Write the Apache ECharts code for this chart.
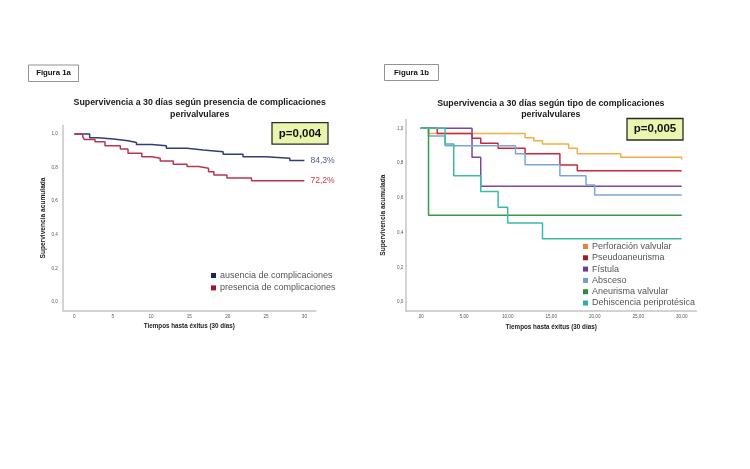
<!DOCTYPE html>
<html>
<head>
<meta charset="utf-8">
<script src="https://cdn.jsdelivr.net/npm/echarts@6/dist/echarts.min.js"></script>
<style>
  html, body { margin: 0; padding: 0; background: #fff; }
  #main { width: 750px; height: 469px; }
</style>
</head>
<body>
<div id="main"></div>
<script>
// Figura 1a
var tiemposAusencia = [0, 2.0, 3.1, 5.1, 7.0, 8.1, 10.1, 12.0, 14.7, 16.8, 19.4, 22.0, 25.0, 28.1, 30];
var supAusencia = [1.0, 0.978, 0.970, 0.960, 0.950, 0.938, 0.930, 0.915, 0.905, 0.895, 0.879, 0.865, 0.855, 0.843, 0.843];
var tiemposPresencia = [0, 1.1, 1.3, 2.7, 4.0, 6.0, 7.0, 8.8, 10.1, 11.2, 12.9, 14.7, 16.2, 17.5, 18.2, 19.9, 23.1, 30];
var supPresencia = [1.0, 0.984, 0.968, 0.954, 0.930, 0.911, 0.885, 0.865, 0.855, 0.839, 0.820, 0.806, 0.796, 0.776, 0.756, 0.738, 0.722, 0.722];

// Figura 1b
var tiposComplicacion = ['Perforación valvular', 'Pseudoaneurisma', 'Fístula', 'Absceso', 'Aneurisma valvular', 'Dehiscencia periprotésica'];
var tiemposTipo = [
    [0, 0.9, 12, 13, 14, 17, 18, 23, 30],
    [0, 1.9, 5.9, 6.9, 8.9, 12, 16, 18, 30],
    [0, 5.9, 6.9, 30],
    [0, 0.9, 2.8, 10.9, 12, 16, 19, 20, 30],
    [0, 0.9, 30],
    [0, 2.8, 3.8, 6.9, 8.9, 10, 14, 30]
];
var supTipo = [
    [1, 0.970, 0.945, 0.928, 0.910, 0.885, 0.853, 0.833, 0.820],
    [1, 0.970, 0.942, 0.914, 0.885, 0.853, 0.789, 0.756, 0.756],
    [1, 0.833, 0.667, 0.667],
    [1, 0.955, 0.900, 0.853, 0.790, 0.727, 0.673, 0.616, 0.616],
    [1, 0.500, 0.500],
    [1, 0.909, 0.727, 0.636, 0.545, 0.455, 0.364, 0.364]
];

var ticksX = [0, 5, 10, 15, 20, 25, 30];
var ticksY = [0, 0.2, 0.4, 0.6, 0.8, 1.0];

var lineasTipo = ['#f2ae45', '#c8283f', '#7d45a8', '#7aa6d6', '#3a9a44', '#3bbaa8'];
var cuadrosTipo = ['#e8803a', '#a01c22', '#6b3d9a', '#6f9fd0', '#2e8b3e', '#2bb0a0'];

var fuente = '"Liberation Sans", Arial, sans-serif';

function pares(t, v) {
    return t.map(function (x, i) { return [x, v[i]]; });
}
function coma(v, d) {
    return v.toFixed(d).replace('.', ',');
}

var myChart = echarts.init(document.getElementById('main'));

function ejeX(idx, fmt, gap) {
    return {
        type: 'value', gridIndex: idx, min: idx ? -1.7 : -1.5, max: idx ? 31.7 : 31.5,
        name: 'Tiempos hasta éxitus (30 días)', nameLocation: 'middle', nameGap: gap,
        nameTextStyle: { fontFamily: fuente, fontWeight: 'bold', fontSize: 6.3, color: '#222' },
        splitLine: { show: false },
        axisTick: { show: false },
        axisLine: { show: true, onZero: false, lineStyle: { color: '#c4c4c4', width: 1.5 } },
        axisLabel: { customValues: ticksX, fontSize: 4.6, color: '#555', margin: 4, fontFamily: fuente, formatter: fmt }
    };
}
function ejeY(idx, gap, margin) {
    return {
        type: 'value', gridIndex: idx, min: -0.05, max: 1.05,
        name: 'Supervivencia acumulada', nameLocation: 'middle', nameGap: gap,
        nameTextStyle: { fontFamily: fuente, fontWeight: 'bold', fontSize: 6.6, color: '#222' },
        splitLine: { show: false },
        axisTick: { show: false },
        axisLine: { show: true, onZero: false, lineStyle: { color: '#c4c4c4', width: 1.5 } },
        axisLabel: { customValues: ticksY, fontSize: 4.6, color: '#555', margin: margin, fontFamily: fuente,
            formatter: function (v) { return coma(v, 1); } }
    };
}

var series = [
    {
        name: 'ausencia de complicaciones', type: 'line', step: 'end', xAxisIndex: 0, yAxisIndex: 0,
        data: pares(tiemposAusencia, supAusencia), showSymbol: false, symbol: 'none',
        lineStyle: { color: '#2f3e76', width: 1.5 }, itemStyle: { color: '#1b2452' },
        endLabel: { show: true, distance: 6, fontSize: 8.6, fontFamily: fuente, color: '#4f5f8e',
            formatter: function (p) { return coma(p.value[1] * 100, 1) + '%'; } }
    },
    {
        name: 'presencia de complicaciones', type: 'line', step: 'end', xAxisIndex: 0, yAxisIndex: 0,
        data: pares(tiemposPresencia, supPresencia), showSymbol: false, symbol: 'none',
        lineStyle: { color: '#b8364f', width: 1.5 }, itemStyle: { color: '#a4142a' },
        endLabel: { show: true, distance: 6, fontSize: 8.6, fontFamily: fuente, color: '#c2414f',
            formatter: function (p) { return coma(p.value[1] * 100, 1) + '%'; } }
    }
];
tiposComplicacion.forEach(function (nombre, i) {
    series.push({
        name: nombre, type: 'line', step: 'end', xAxisIndex: 1, yAxisIndex: 1,
        data: pares(tiemposTipo[i], supTipo[i]), showSymbol: false, symbol: 'none',
        lineStyle: { color: lineasTipo[i], width: 1.5 }, itemStyle: { color: cuadrosTipo[i] }
    });
});

function caja(x, y, w, h, texto, relleno, borde, lw, tam) {
    return {
        type: 'group', children: [
            { type: 'rect', shape: { x: x, y: y, width: w, height: h }, style: { fill: relleno, stroke: borde, lineWidth: lw } },
            { type: 'text', x: x + w / 2, y: y + h / 2, style: { text: texto, align: 'center', verticalAlign: 'middle',
                font: 'bold ' + tam + 'px ' + fuente, fill: '#111' } }
        ]
    };
}
function titulo(x, y, texto) {
    return { type: 'text', x: x, y: y, style: { text: texto, align: 'center', verticalAlign: 'middle', lineHeight: 11.6,
        font: 'bold 8.8px ' + fuente, fill: '#1a1a1a' } };
}

option = {
    backgroundColor: '#ffffff',
    animation: false,
    grid: [
        { left: 62.8, top: 125.6, width: 253.1, height: 184.8 },
        { left: 405.9, top: 119.6, width: 290.6, height: 191.1 }
    ],
    xAxis: [
        ejeX(0, function (v) { return String(v); }, 13),
        ejeX(1, function (v) { return v === 0 ? ',00' : coma(v, 2); }, 14)
    ],
    yAxis: [ejeY(0, 16, 5), ejeY(1, 19, 2.5)],
    legend: [
        {
            data: ['ausencia de complicaciones', 'presencia de complicaciones'],
            orient: 'vertical', left: 206, top: 265.5, icon: 'rect', itemWidth: 5, itemHeight: 5, itemGap: 2.4,
            textStyle: { fontFamily: fuente, fontSize: 9, color: '#555', lineHeight: 10, padding: [0, 0, 0, -1] },
            selectedMode: false
        },
        {
            data: tiposComplicacion,
            orient: 'vertical', left: 578, top: 236.5, icon: 'rect', itemWidth: 5, itemHeight: 5, itemGap: 1.3,
            textStyle: { fontFamily: fuente, fontSize: 9, color: '#555', lineHeight: 10, padding: [0, 0, 0, -1] },
            selectedMode: false
        }
    ],
    graphic: [
        caja(28.5, 65, 50, 16.5, 'Figura 1a', '#fff', '#777', 0.8, 7.8),
        caja(384.5, 64.5, 54, 16, 'Figura 1b', '#fff', '#777', 0.8, 7.8),
        titulo(199.7, 108.5, 'Supervivencia a 30 días según presencia de complicaciones\nperivalvulares'),
        titulo(550.8, 109.2, 'Supervivencia a 30 días según tipo de complicaciones\nperivalvulares'),
        caja(272, 122.7, 56, 21.5, 'p=0,004', '#eaf6ad', '#2b2b2b', 1.3, 11.5),
        caja(627, 118.5, 56, 21.5, 'p=0,005', '#eaf6ad', '#2b2b2b', 1.3, 11.5)
    ],
    series: series
};

myChart.setOption(option);
</script>
</body>
</html>
